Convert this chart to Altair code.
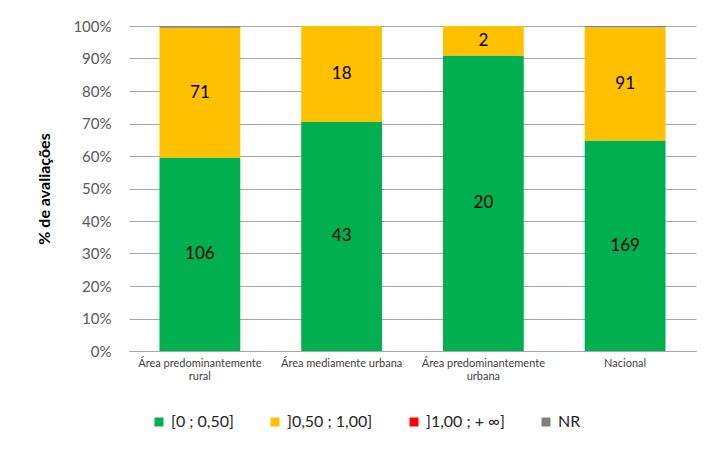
import altair as alt
import pandas as pd

categories = ["Área predominantemente rural", "Área mediamente urbana",
              "Área predominantemente urbana", "Nacional"]
series = ["[0 ; 0,50]", "]0,50 ; 1,00]", "]1,00 ; + ∞]", "NR"]
colors = ["#00B050", "#FFC000", "#FF0000", "#808080"]
green_counts = [106, 43, 20, 169]
yellow_counts = [71, 18, 2, 91]
red_counts = [0, 0, 0, 0]
nr_counts = [1, 0, 0, 1]
y_ticks = [0, 0.1, 0.2, 0.3, 0.4, 0.5, 0.6, 0.7, 0.8, 0.9, 1.0]

rows = []
for i, c in enumerate(categories):
    for j, (s, vals) in enumerate(zip(series, [green_counts, yellow_counts, red_counts, nr_counts])):
        rows.append({"cat": c, "serie": s, "n": vals[i], "ord": j})
df = pd.DataFrame(rows)

FONT = "Lato"

base = alt.Chart(df).transform_stack(
    stack="n", groupby=["cat"], as_=["y0", "y1"], offset="normalize",
    sort=[alt.SortField("ord", order="ascending")]
)

x_axis = alt.Axis(labelAngle=0, labelFontSize=11, labelColor="#404040",
                  labelFont=FONT, domainColor="#A6A6A6", ticks=False,
                  labelPadding=6, labelLineHeight=13,
                  labelExpr="indexof(datum.label,'predominantemente ')>=0 ? split(replace(datum.label,'predominantemente ','predominantemente|'),'|') : datum.label")
x_scale = alt.Scale(paddingInner=0.43, paddingOuter=0.215)

y_axis = alt.Axis(format="%", values=y_ticks, labelOverlap=False,
                  labelFontSize=15, labelColor="#595959", labelFont=FONT,
                  gridColor="#A6A6A6", domain=False, ticks=False,
                  labelPadding=18, titleFontSize=16, titleFont=FONT,
                  titleFontWeight="bold", titleColor="#000000", titlePadding=20)
y_scale = alt.Scale(domain=[0, 1])
Y_TITLE = "% de avaliações"

bars = base.mark_bar().encode(
    x=alt.X("cat:N", sort=categories, title=None, scale=x_scale, axis=x_axis),
    y=alt.Y("y0:Q", scale=y_scale, title=Y_TITLE, axis=y_axis),
    y2="y1:Q",
    color=alt.Color("serie:N", scale=alt.Scale(domain=series, range=colors),
                    legend=alt.Legend(title=None, orient="none", direction="horizontal",
                                      legendX=22, legendY=388, symbolType="square",
                                      symbolSize=81, symbolStrokeWidth=0,
                                      labelFontSize=16, labelFont=FONT, labelColor="#262626",
                                      columnPadding=33, labelOffset=4)),
)

labels = base.transform_filter(
    "datum.n > 0 && datum.ord < 2"
).transform_calculate(
    mid="(datum.y0 + datum.y1) / 2"
).mark_text(fontSize=17, font=FONT, color="#000000").encode(
    x=alt.X("cat:N", sort=categories, title=None, scale=x_scale, axis=x_axis),
    y=alt.Y("mid:Q", scale=y_scale, title=Y_TITLE, axis=y_axis),
    text="n:Q",
)

chart = alt.layer(bars, labels).properties(
    width=567, height=325,
    autosize=alt.AutoSizeParams(type="none"),
    padding={"left": 121, "top": 18, "right": 15, "bottom": 100},
    background="white",
).configure_view(stroke=None)

chart.save("out.html", embed_options={"renderer": "svg", "actions": False})
